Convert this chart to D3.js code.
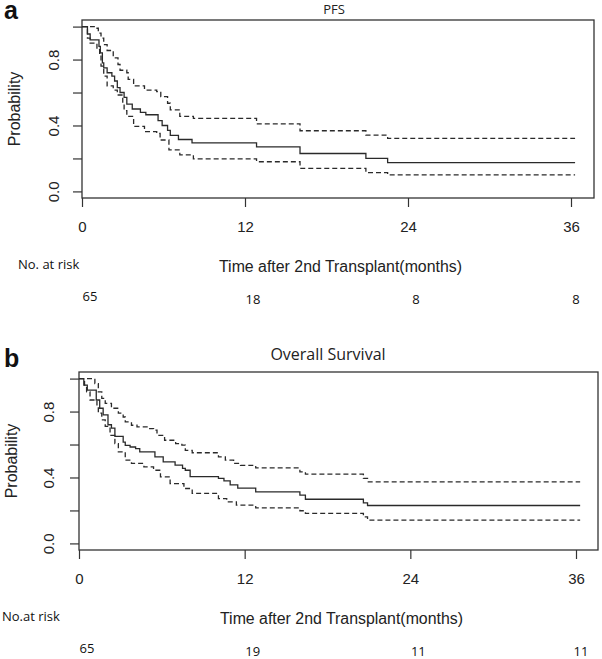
<!DOCTYPE html>
<html><head><meta charset="utf-8">
<script src="https://cdn.jsdelivr.net/npm/d3@7"></script>
<style>body{margin:0;background:#fff} svg{display:block}</style>
</head><body>
<svg id="chart" width="602" height="659"></svg>
<script>
// ---------- data ----------
const xTicks = [0, 12, 24, 36];
const yTicks = [0, 0.2, 0.4, 0.6, 0.8, 1.0];
const yTickLabels = [0, 0.4, 0.8];
const riskTimes = [0, 12, 24, 36];
const pfsRisk = [65, 18, 8, 8];
const osRisk = [65, 19, 11, 11];
const followUpEnd = 36.3;

const pfsEstimate = [[0,1],[0.4,0.955],[0.6,0.92],[1.25,0.88],[1.35,0.84],[1.5,0.78],[1.6,0.75],[1.85,0.72],[2.2,0.70],[2.4,0.67],[2.6,0.63],[2.8,0.60],[3.1,0.57],[3.3,0.53],[3.7,0.50],[4.3,0.48],[4.7,0.465],[5.6,0.43],[5.9,0.40],[6.3,0.37],[6.5,0.34],[7.1,0.315],[8.1,0.295],[12.85,0.27],[16.05,0.23],[20.9,0.20],[22.5,0.175]];
const pfsUpper = [[0,1],[0.9,0.99],[1.2,0.96],[1.4,0.93],[1.6,0.89],[1.85,0.855],[2.3,0.81],[2.65,0.77],[2.8,0.735],[3.3,0.72],[3.4,0.68],[3.8,0.64],[4.6,0.615],[5.5,0.605],[5.8,0.575],[6.3,0.535],[6.5,0.495],[7.2,0.455],[8.2,0.443],[12.85,0.41],[16.05,0.368],[20.9,0.342],[22.5,0.322]];
const pfsLower = [[0,1],[0.4,0.93],[0.6,0.90],[1.1,0.86],[1.3,0.82],[1.4,0.76],[1.6,0.70],[1.85,0.64],[2.3,0.615],[2.6,0.585],[3.0,0.53],[3.1,0.49],[3.3,0.455],[3.8,0.395],[4.6,0.363],[5.5,0.352],[5.75,0.312],[6.4,0.252],[7.2,0.222],[8.2,0.197],[12.85,0.18],[16.05,0.14],[20.9,0.114],[22.5,0.10]];

const osEstimate = [[0,1],[0.35,0.96],[0.6,0.93],[1.25,0.87],[1.5,0.82],[1.75,0.78],[2.1,0.72],[2.35,0.70],[2.6,0.65],[3.2,0.615],[3.35,0.595],[3.7,0.585],[4.1,0.575],[4.4,0.555],[5.5,0.525],[6.1,0.495],[6.96,0.475],[7.5,0.455],[7.7,0.444],[8.05,0.405],[10.1,0.394],[10.5,0.38],[10.95,0.355],[11.5,0.335],[12.8,0.313],[16.0,0.293],[16.4,0.268],[20.6,0.246],[20.9,0.23]];
const osUpper = [[0,1],[1.15,0.97],[1.4,0.92],[1.65,0.88],[1.9,0.85],[2.35,0.82],[2.85,0.79],[3.2,0.767],[3.35,0.737],[3.8,0.717],[4.2,0.707],[5.0,0.697],[5.4,0.687],[5.65,0.656],[6.2,0.626],[7.0,0.606],[7.45,0.596],[7.7,0.565],[8.2,0.55],[10.1,0.525],[10.6,0.505],[11.2,0.485],[11.7,0.474],[12.8,0.458],[16.0,0.434],[16.4,0.42],[20.6,0.394],[20.9,0.373]];
const osLower = [[0,1],[0.4,0.96],[0.55,0.92],[0.8,0.87],[1.3,0.84],[1.4,0.79],[1.65,0.75],[1.9,0.71],[2.25,0.656],[2.6,0.606],[2.85,0.555],[3.35,0.505],[3.8,0.485],[4.7,0.464],[5.4,0.444],[5.9,0.404],[6.6,0.363],[7.6,0.333],[8.2,0.303],[10.1,0.272],[10.7,0.252],[11.4,0.232],[12.8,0.216],[16.0,0.198],[16.4,0.182],[20.6,0.161],[20.9,0.141]];

// ---------- layout ----------
const panels = [
  {letter:'a', title:'PFS', titleSize:13, riskLabel:'No. at risk', riskLabelX:18,
   est:pfsEstimate, up:pfsUpper, lo:pfsLower, risk:pfsRisk,
   left:82, right:594, top:20, bottom:198, x36:571, titleX:334, titleY:14, letterY:19, yLabX:15, yTickLabOff:28},
  {letter:'b', title:'Overall Survival', titleSize:16, riskLabel:'No.at risk', riskLabelX:2,
   est:osEstimate, up:osUpper, lo:osLower, risk:osRisk,
   left:79, right:598, top:372, bottom:550, x36:576, titleX:328, titleY:360, letterY:367, yLabX:12, yTickLabOff:30}
];

const svg = d3.select('#chart');
const ink = '#333';
const sansA = '"Liberation Sans", Arial, sans-serif';
const sansC = '"Open Sans", "Noto Sans", sans-serif';

panels.forEach(p => {
  const xMax = 36 * (p.right - p.left) / (p.x36 - p.left);
  const x = d3.scaleLinear().domain([0, xMax]).range([p.left, p.right]);
  const y = d3.scaleLinear().domain([-0.04, 1.04]).range([p.bottom, p.top]);
  const g = svg.append('g');

  // panel letter
  g.append('text').attr('x', 4).attr('y', p.letterY)
    .attr('font-family', sansA).attr('font-weight', 'bold').attr('font-size', 25)
    .attr('fill', '#111').text(p.letter);
  // title
  g.append('text').attr('x', p.titleX).attr('y', p.titleY).attr('text-anchor', 'middle')
    .attr('font-family', sansC).attr('font-size', p.titleSize).attr('fill', '#222').text(p.title);

  // box
  g.append('rect').attr('x', p.left).attr('y', p.top)
    .attr('width', p.right - p.left).attr('height', p.bottom - p.top)
    .attr('fill', 'none').attr('stroke', ink).attr('stroke-width', 1.3);

  // y axis
  const yAx = g.append('g').attr('transform', `translate(${p.left},0)`)
    .call(d3.axisLeft(y).tickValues(yTicks).tickSize(9).tickPadding(4)
      .tickFormat(d => yTickLabels.some(v => Math.abs(v - d) < 1e-9) ? d3.format('.1f')(d) : ''));
  yAx.select('.domain').remove();
  yAx.selectAll('line').attr('stroke', ink).attr('stroke-width', 1.2);
  yAx.selectAll('text').attr('font-family', sansA).attr('font-size', 15).attr('fill', '#222')
    .attr('text-anchor', 'middle').attr('x', 0).attr('dy', null).attr('y', 0)
    .attr('transform', `translate(${-p.yTickLabOff + 5},0) rotate(-90)`);

  // x axis
  const xAx = g.append('g').attr('transform', `translate(0,${p.bottom})`)
    .call(d3.axisBottom(x).tickValues(xTicks).tickSize(9).tickPadding(14));
  xAx.select('.domain').remove();
  xAx.selectAll('line').attr('stroke', ink).attr('stroke-width', 1.2);
  xAx.selectAll('text').attr('font-family', sansA).attr('font-size', 15).attr('fill', '#222');

  // y label
  g.append('text').attr('transform', `translate(${p.yLabX + 5},${(p.top + p.bottom) / 2}) rotate(-90)`)
    .attr('text-anchor', 'middle').attr('font-family', sansA).attr('font-size', 16)
    .attr('fill', '#222').text('Probability');

  // x label & risk header
  g.append('text').attr('x', (x(0) + x(36)) / 2 + 14).attr('y', p.bottom + 74)
    .attr('text-anchor', 'middle').attr('font-family', sansA).attr('font-size', 16)
    .attr('textLength', 243).attr('lengthAdjust', 'spacingAndGlyphs')
    .attr('fill', '#222').text('Time after 2nd Transplant(months)');
  g.append('text').attr('x', p.riskLabelX).attr('y', p.bottom + 71)
    .attr('font-family', sansC).attr('font-size', 13).attr('fill', '#111').text(p.riskLabel);

  // numbers at risk
  g.selectAll('.risk').data(p.risk).enter().append('text')
    .attr('x', (d, i) => x(riskTimes[i]) + (i === 3 ? 5 : 8))
    .attr('y', (d, i) => p.bottom + (i === 0 ? 103 : 106))
    .attr('text-anchor', 'middle').attr('font-family', sansC).attr('font-size', 13)
    .attr('fill', '#111').text(d => d);

  // curves
  const line = d3.line().curve(d3.curveStepAfter).x(d => x(d[0])).y(d => y(d[1]));
  const ext = arr => arr.concat([[followUpEnd, arr[arr.length - 1][1]]]);
  [[p.up, '5,3'], [p.lo, '5,3'], [p.est, null]].forEach(([arr, dash]) => {
    g.append('path').datum(ext(arr)).attr('d', line)
      .attr('fill', 'none').attr('stroke', '#2a2a2a').attr('stroke-width', 1.3)
      .attr('stroke-dasharray', dash);
  });
});
</script>
</body></html>
